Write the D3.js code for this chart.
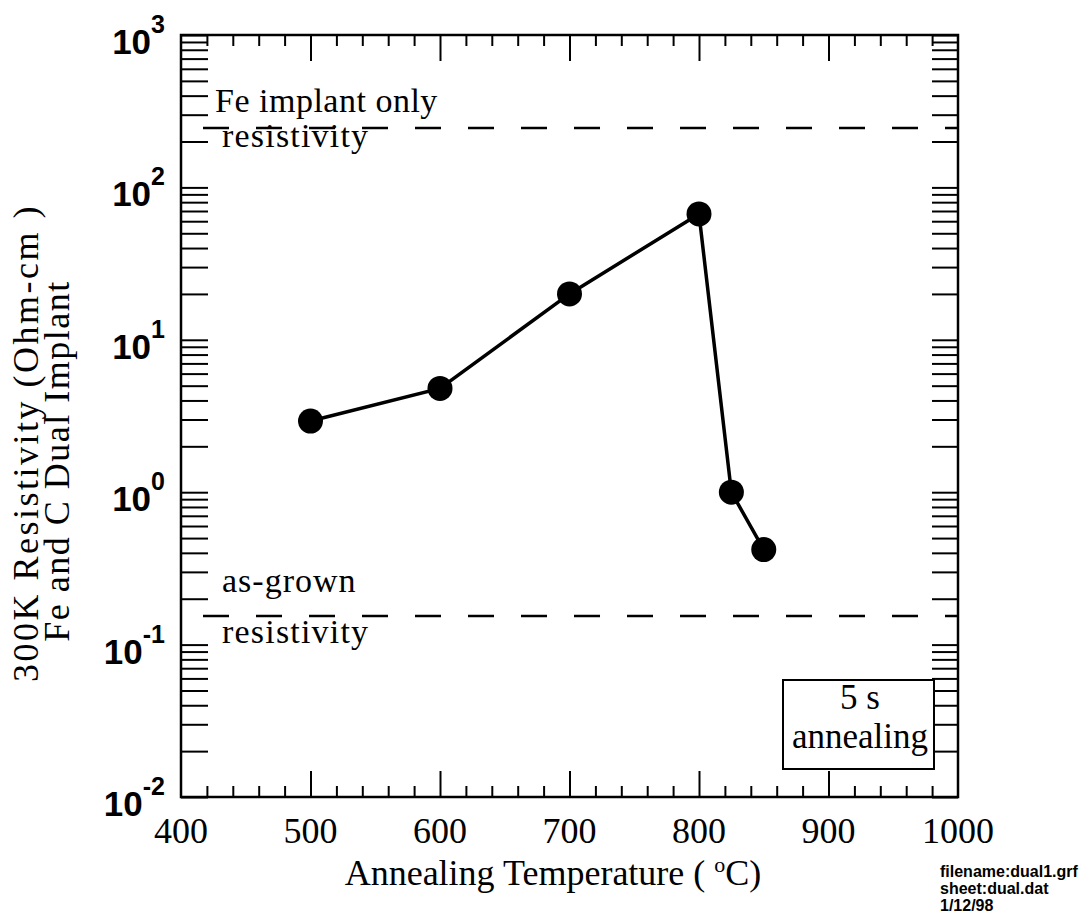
<!DOCTYPE html>
<html>
<head>
<meta charset="utf-8">
<script src="https://cdn.jsdelivr.net/npm/d3@7"></script>
<style>
  body { margin: 0; background: #fff; }
  svg { display: block; }
  .serif { font-family: "Liberation Serif", "Times New Roman", serif; fill: #000; }
  .sans { font-family: "Liberation Sans", Arial, sans-serif; font-weight: bold; fill: #000; }
</style>
</head>
<body>
<script>
var w = 1091;
var h = 916;

// data
var temps = [500, 600, 700, 800, 825, 850];
var resistivity = [2.93, 4.8, 20, 67, 1.0, 0.42];
var feOnlyLevel = 245;
var asGrownLevel = 0.154;
var xMajorTicks = [400, 500, 600, 700, 800, 900, 1000];
var yDecades = [-2, -1, 0, 1, 2, 3];
var notes = ['filename:dual1.grf', 'sheet:dual.dat', '1/12/98'];

// plot frame (window.top is reserved, so no "top" here)
var pLeft = 181, pRight = 958, pTop = 35, pBottom = 797;

var x = d3.scaleLinear().domain([400, 1000]).range([pLeft, pRight]);
var y = d3.scaleLog().domain([0.01, 1000]).range([pBottom, pTop]);

var svg = d3.select('body').append('svg')
    .attr('width', w)
    .attr('height', h);

// tick values
var xMinor = d3.range(420, 1000, 20).filter(function(d){ return d % 100 !== 0; });
var xMajorInner = xMajorTicks.slice(1, -1);
var yTicks = [];
yDecades.slice(0, -1).forEach(function(k){
  for (var m = 1; m <= 9; m++) yTicks.push(m * Math.pow(10, k));
});
yTicks.push(1000);

function tidy(g){
  g.select('.domain').remove();
  g.selectAll('.tick line').attr('stroke', '#000').attr('stroke-width', 2);
  g.selectAll('.tick text').remove();
}

svg.append('g').attr('transform', 'translate(0,' + pBottom + ')')
  .call(d3.axisBottom(x).tickValues(xMinor).tickSize(-11)).call(tidy);
svg.append('g').attr('transform', 'translate(0,' + pBottom + ')')
  .call(d3.axisBottom(x).tickValues(xMajorInner).tickSize(-26)).call(tidy);
svg.append('g').attr('transform', 'translate(0,' + pTop + ')')
  .call(d3.axisTop(x).tickValues(xMinor).tickSize(-11)).call(tidy);
svg.append('g').attr('transform', 'translate(0,' + pTop + ')')
  .call(d3.axisTop(x).tickValues(xMajorInner).tickSize(-26)).call(tidy);
svg.append('g').attr('transform', 'translate(' + pLeft + ',0)')
  .call(d3.axisLeft(y).tickValues(yTicks).tickSize(-27)).call(tidy);
svg.append('g').attr('transform', 'translate(' + pRight + ',0)')
  .call(d3.axisRight(y).tickValues(yTicks).tickSize(-26)).call(tidy);

// frame
svg.append('rect')
    .attr('x', pLeft).attr('y', pTop)
    .attr('width', pRight - pLeft).attr('height', pBottom - pTop)
    .attr('fill', 'none').attr('stroke', '#000').attr('stroke-width', 2.5);

// x tick labels
svg.selectAll('.xlab').data(xMajorTicks).enter().append('text')
    .attr('class', 'serif')
    .attr('x', function(d){ return x(d); })
    .attr('y', pBottom + 46)
    .attr('text-anchor', 'middle')
    .attr('font-size', 36)
    .text(function(d){ return d; });

// y tick labels 10^k
var ylab = svg.selectAll('.ylab').data(yDecades).enter().append('text')
    .attr('class', 'sans')
    .attr('x', 165)
    .attr('y', function(d){ return y(Math.pow(10, d)) + 19; })
    .attr('text-anchor', 'end')
    .attr('font-size', 35);
ylab.append('tspan').text('10');
ylab.append('tspan').attr('dy', -21).attr('font-size', 25)
    .text(function(d){ return d; });

// reference dashed lines
[feOnlyLevel, asGrownLevel].forEach(function(v){
  svg.append('line')
      .attr('x1', x(417)).attr('x2', pRight)
      .attr('y1', y(v)).attr('y2', y(v))
      .attr('stroke', '#000').attr('stroke-width', 2.5)
      .attr('stroke-dasharray', '26,27');
});

svg.append('text').attr('class', 'serif').attr('font-size', 34)
    .attr('x', 215).attr('y', y(feOnlyLevel) - 16).attr('letter-spacing', 0.5)
    .text('Fe implant only');
svg.append('text').attr('class', 'serif').attr('font-size', 34)
    .attr('x', 222).attr('y', y(feOnlyLevel) + 19).attr('letter-spacing', 1.2)
    .text('resistivity');
svg.append('text').attr('class', 'serif').attr('font-size', 34)
    .attr('x', 222).attr('y', y(asGrownLevel) - 24).attr('letter-spacing', 1)
    .text('as-grown');
svg.append('text').attr('class', 'serif').attr('font-size', 34)
    .attr('x', 222).attr('y', y(asGrownLevel) + 27).attr('letter-spacing', 1.2)
    .text('resistivity');

// data line and points
var pts = temps.map(function(t, i){ return { t: t, r: resistivity[i] }; });
svg.append('path').datum(pts)
    .attr('fill', 'none').attr('stroke', '#000').attr('stroke-width', 3.5)
    .attr('d', d3.line()
      .x(function(d){ return x(d.t); })
      .y(function(d){ return y(d.r); }));
svg.selectAll('circle').data(pts).enter().append('circle')
    .attr('cx', function(d){ return x(d.t); })
    .attr('cy', function(d){ return y(d.r); })
    .attr('r', 12.5)
    .attr('fill', '#000');

// annealing box
svg.append('rect')
    .attr('x', 783).attr('y', 680).attr('width', 151).attr('height', 89)
    .attr('fill', '#fff').attr('stroke', '#000').attr('stroke-width', 2);
svg.append('text').attr('class', 'serif').attr('font-size', 35)
    .attr('x', 860).attr('y', 709).attr('text-anchor', 'middle').text('5 s');
svg.append('text').attr('class', 'serif').attr('font-size', 35)
    .attr('x', 860).attr('y', 748).attr('text-anchor', 'middle').text('annealing');

// axis titles
var xt = svg.append('text').attr('class', 'serif').attr('font-size', 36)
    .attr('x', 553).attr('y', 885).attr('text-anchor', 'middle');
xt.append('tspan').text('Annealing Temperature ( ');
xt.append('tspan').attr('font-size', 22).attr('dy', -13).text('o');
xt.append('tspan').attr('dy', 13).text('C)');

svg.append('text').attr('class', 'serif').attr('font-size', 36)
    .attr('text-anchor', 'middle')
    .attr('letter-spacing', 2.5)
    .attr('transform', 'translate(38,443) rotate(-90)')
    .text('300K Resistivity (Ohm-cm )');
svg.append('text').attr('class', 'serif').attr('font-size', 36)
    .attr('text-anchor', 'middle')
    .attr('letter-spacing', 1.5)
    .attr('transform', 'translate(69,461) rotate(-90)')
    .text('Fe and C Dual Implant');

// file notes
svg.selectAll('.note').data(notes).enter().append('text')
    .attr('class', 'sans').attr('font-size', 16)
    .attr('x', 940)
    .attr('y', function(d, i){ return 877 + i * 17; })
    .text(function(d){ return d; });
</script>
</body>
</html>
